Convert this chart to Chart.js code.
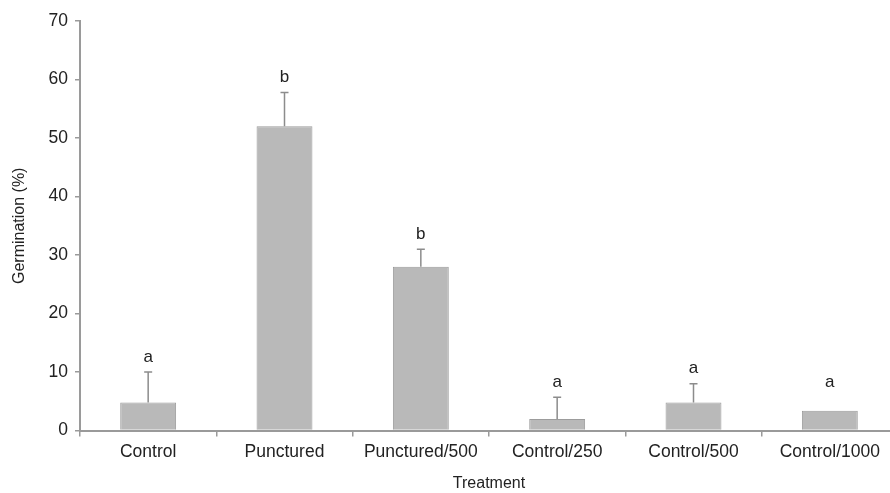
<!DOCTYPE html>
<html lang="en">
  <head>
    <meta charset="UTF-8" />
    <title>Germination by treatment</title>
    <script src="https://cdn.jsdelivr.net/npm/chart.js@4.4.1/dist/chart.umd.min.js"></script>
    <style>
      html, body { margin: 0; padding: 0; background: #fff; overflow: hidden; }
    </style>
  </head>
  <body>
    <canvas id="germChart" width="910" height="493"></canvas>

    <script>
      // values
      const treatments = ["Control", "Punctured", "Punctured/500", "Control/250", "Control/500", "Control/1000"];
      const germination = [4.8, 52, 28, 2, 4.8, 3.4];
      const stdErr = [5.2, 5.8, 3, 3.7, 3.2, 0];
      const letters = ["a", "b", "b", "a", "a", "a"];
      const yTicks = [0, 10, 20, 30, 40, 50, 60, 70];

      const axisGray = "#9a9a9a";
      const font = "'Liberation Sans', Arial, sans-serif";

      // error bars + significance letters
      const errorBars = {
        id: "errorBars",
        afterDatasetsDraw(chart) {
          const { ctx, scales } = chart;
          const meta = chart.getDatasetMeta(0);
          ctx.save();
          meta.data.forEach((bar, i) => {
            const top = scales.y.getPixelForValue(germination[i] + stdErr[i]);
            if (stdErr[i] > 0) {
              ctx.strokeStyle = "#8c8c8c";
              ctx.lineWidth = 1.5;
              ctx.beginPath();
              ctx.moveTo(bar.x, bar.y);
              ctx.lineTo(bar.x, top);
              ctx.moveTo(bar.x - 4, top);
              ctx.lineTo(bar.x + 4, top);
              ctx.stroke();
            }
            ctx.fillStyle = "#222";
            ctx.font = "17px " + font;
            ctx.textAlign = "center";
            ctx.textBaseline = "middle";
            ctx.fillText(letters[i], bar.x, top - (stdErr[i] > 0 ? 15 : 28));
          });
          ctx.restore();
        },
      };

      new Chart(document.getElementById("germChart"), {
        type: "bar",
        data: {
          labels: treatments,
          datasets: [
            {
              data: germination,
              backgroundColor: "#b9b9b9",
              borderColor: "#9c9c9c",
              borderWidth: 1,
              borderSkipped: "bottom",
              categoryPercentage: 1,
              barPercentage: 0.41,
            },
          ],
        },
        options: {
          responsive: false,
          animation: false,
          layout: { padding: { left: 6, right: 12, top: 21, bottom: 0 } },
          plugins: { legend: { display: false }, tooltip: { enabled: false } },
          scales: {
            x: {
              grid: {
                display: true,
                drawOnChartArea: false,
                offset: true,
                color: axisGray,
                tickLength: 6,
                lineWidth: 1.5,
              },
              border: { color: axisGray, width: 2 },
              ticks: { color: "#222", font: { family: font, size: 17.5 }, padding: 5, maxRotation: 0, autoSkip: false },
              title: { display: true, text: "Treatment", color: "#222", font: { family: font, size: 16 }, padding: { top: 0, bottom: 0 } },
              afterFit(scale) { scale.height = 62.4; },
            },
            y: {
              min: 0,
              max: 70,
              afterBuildTicks(scale) { scale.ticks = yTicks.map((v) => ({ value: v })); },
              grid: { display: true, drawOnChartArea: false, color: axisGray, tickLength: 5, lineWidth: 1.5 },
              border: { color: axisGray, width: 2 },
              ticks: { color: "#222", font: { family: font, size: 17.5 }, padding: 7 },
              title: { display: true, text: "Germination (%)", color: "#222", font: { family: font, size: 16 }, padding: { top: 4, bottom: 0 } },
              afterFit(scale) { scale.width = 74; },
            },
          },
        },
        plugins: [errorBars],
      });
    </script>
  </body>
</html>
